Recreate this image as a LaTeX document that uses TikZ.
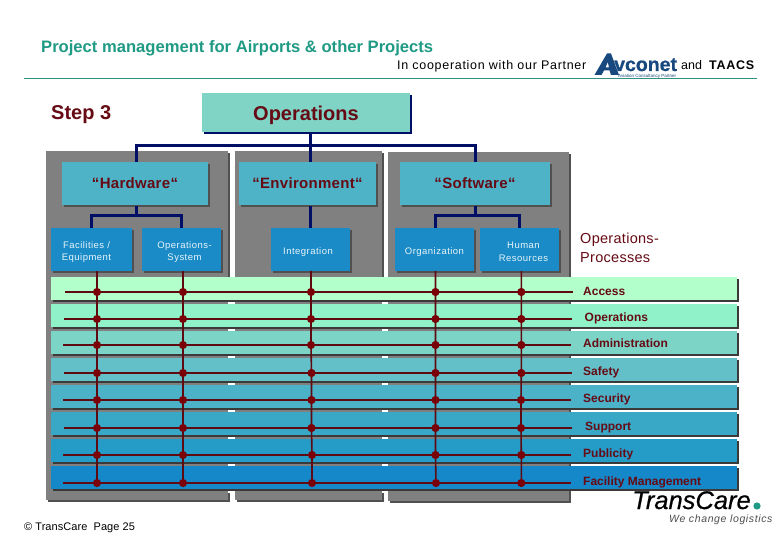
\documentclass[tikz,border=0pt]{standalone}
\usepackage{fontspec}
\setmainfont{Liberation Sans}
\definecolor{titlec}{HTML}{1F9A84}
\definecolor{rulec}{HTML}{2F8F80}
\definecolor{navyc}{HTML}{000F66}
\definecolor{maroonc}{HTML}{660A14}
\definecolor{linec}{HTML}{5E0A10}
\definecolor{dotc}{HTML}{7A0008}
\definecolor{panelc}{HTML}{808080}
\definecolor{panels}{HTML}{505050}
\definecolor{topc}{HTML}{7FD4C6}
\definecolor{midc}{HTML}{4FB3C8}
\definecolor{subc}{HTML}{1A8BC7}
\definecolor{logoc}{HTML}{17497F}
\tikzset{
  x=1pt,y=-1pt,
  fs/.style={font=\fontsize{#1}{#1}\selectfont},
  panel/.style={fill=panelc,draw=none},
  panelsh/.style={fill=panels,draw=none},
  conn/.style={draw=navyc,line width=3pt},
  hline/.style={draw=linec,line width=1.6pt},
  vline/.style={draw=linec,line width=1.6pt},
  dot/.style={circle,fill=dotc,draw=none,inner sep=0pt,minimum size=8.2pt},
  hdr/.style={inner sep=0pt,anchor=base west,text=black},
  proc/.style={inner sep=0pt,anchor=base west,text=maroonc,font=\fontsize{12}{12}\selectfont\bfseries},
  topt/.style={text=maroonc,yshift=-3pt,font=\fontsize{20}{22}\selectfont\bfseries},
  midt/.style={text=maroonc,font=\fontsize{15}{18}\selectfont\addfontfeature{LetterSpace=2}\bfseries},
  subt/.style={text=white!90!subc,yshift=-2.5pt,font=\fontsize{9.5}{12.5}\selectfont\addfontfeature{LetterSpace=5}},
}
\newcommand{\boxat}[9]{% name, x1, y1, x2, y2, fill, shadow, text style, text
  \fill[#7] (#2+2,#3+2) rectangle (#4+2,#5+2);
  \fill[#6] (#2,#3) rectangle (#4,#5);
  \node[inner sep=0pt,align=center,#8] (#1) at ({(#2+#4)/2},{(#3+#5)/2}) {#9};
}
\begin{document}
\begin{tikzpicture}
\useasboundingbox (0,0) rectangle (780,540);
\fill[white] (0,0) rectangle (780,540);
% header
\node[hdr,text=titlec,fs=16.6] (title) at (41,53) {\bfseries Project management for Airports \& other Projects};
\node[hdr,fs=12.5] (coop) at (397,69.5) {\addfontfeature{LetterSpace=5.6}In cooperation with our Partner};
\node[hdr,fs=12.5] (andt) at (681,69.5) {and};
\node[hdr,fs=12.5] (taacs) at (709,69.5) {\addfontfeature{LetterSpace=6}\bfseries TAACS};
\draw[rulec,line width=0.9pt] (24,78.5) coordinate (ra) -- (757,78.5) coordinate (rb);
% avconet logo
\fill[logoc,even odd rule] (594.5,75) -- (607,53.5) -- (611,53.5) -- (619,75) -- (611,75) -- (609.5,70.5) -- (604,70.5) -- (601.5,75) -- cycle
  (605.5,67.5) -- (609,67.5) -- (607.8,62) -- cycle;
\node[hdr,text=logoc,fs=19.5] (avc) at (614,71) {\addfontfeature{FakeBold=0.7}\bfseries vconet};
\node[hdr,text=logoc,fs=4.5] (avs) at (618,77.2) {Aviation Consultancy Partner};
% step
\node[hdr,text=maroonc,fs=20] (step) at (51,120) {\bfseries Step 3};
% panels
\fill[panelsh] (48,153) rectangle (230,502);
\fill[panel] (46,151) rectangle (228,500);
\fill[panelsh] (237,153) rectangle (384,502);
\fill[panel] (235,151) rectangle (382,500);
\fill[panelsh] (390,154) rectangle (571,503);
\fill[panel] (388,152) rectangle (569,501);
% top box
\boxat{ops}{202}{93}{410}{132}{topc}{navyc}{topt}{Operations}
% middle boxes
\boxat{hw}{62}{162}{208}{205}{midc}{panels}{midt}{“Hardware“}
\boxat{env}{239}{162}{376}{205}{midc}{panels}{midt}{“Environment“}
\boxat{soft}{400}{162}{550}{205}{midc}{panels}{midt}{“Software“}
% sub boxes
\boxat{fac}{51}{228}{132}{271}{subc}{panels}{subt,xshift=-5pt}{Facilities /\\Equipment}
\boxat{osys}{142}{228}{221}{271}{subc}{panels}{subt,xshift=3pt}{Operations-\\System}
\boxat{integ}{271}{228}{350}{271}{subc}{panels}{subt,xshift=-2.5pt}{Integration}
\boxat{org}{395}{228}{474}{271}{subc}{panels}{subt}{Organization}
\boxat{hum}{480}{228}{559}{271}{subc}{panels}{subt,xshift=4pt}{Human\\Resources}
% connectors
\draw[conn] (310,133) -- (310,162);
\draw[conn] (136,162) -- (136,145.5) -- (475,145.5) -- (475,162);
\draw[conn] (136,206) -- (136,216);
\draw[conn] (91,228) -- (91,216) -- (181,216) -- (181,228);
\draw[conn] (310,206) -- (310,228);
\draw[conn] (475,206) -- (475,216);
\draw[conn] (435,228) -- (435,216) -- (519,216) -- (519,228);
\node[hdr,text=maroonc,fs=14.5] (pr1) at (580,244) {\addfontfeature{LetterSpace=2}Operations-};
\node[hdr,text=maroonc,fs=14.5] (pr2) at (580,263) {\addfontfeature{LetterSpace=2}Processes};
% transcare logo, under the bands
\node[hdr,fs=25.5] (tc) at (632,509) {\addfontfeature{FakeBold=0.5}\itshape TransCare};
\fill[titlec] (757,506) circle (3.6) coordinate (tcdot);
\node[hdr,fs=10.5,text=black!70] (tcs) at (669,522) {\addfontfeature{LetterSpace=6}\itshape We change logistics};
% bands
\foreach \y/\c in {277/B3FFCC,304/8FF2C8,331/7BD4C6,358/63C0C8,385/4BB2C8,412/38A8C6,439/259CC8,466/1488C8}{
  \definecolor{bandc}{HTML}{\c}
  \fill[black!55!panelc] (53,\y+2) rectangle (739,\y+25);
  \fill[white] (228,\y+25) rectangle (235,\y+27);
  \fill[white] (382,\y+25) rectangle (388,\y+27);
  \fill[bandc] (51,\y) rectangle (737,\y+23);
}
% matrix dots
\foreach \i/\y/\a/\b/\c/\d/\e in {
  1/292/97/183/311/435.5/521.3,
  2/319/97/183/311/435.5/521.3,
  3/345/97/183/311/435.5/521.3,
  4/373/97/183/311.5/435.5/521.3,
  5/400/97/183/311.5/435.5/521,
  6/428/97/183/311.5/435.5/521,
  7/455/97/183/312/435.5/521.3,
  8/483/97/183/312/436/521.3}{
  \coordinate (h\i a) at (\a,\y);
  \coordinate (h\i b) at (\b,\y);
  \coordinate (h\i c) at (\c,\y);
  \coordinate (h\i d) at (\d,\y);
  \coordinate (h\i e) at (\e,\y);
}
\coordinate (v0a) at (97,271); \coordinate (v0b) at (183,271); \coordinate (v0c) at (311,271);
\coordinate (v0d) at (435.5,271); \coordinate (v0e) at (521.3,271);
\foreach \k in {a,b,c,d,e}{
  \draw[vline] (v0\k) -- (h1\k) -- (h2\k) -- (h3\k) -- (h4\k) -- (h5\k) -- (h6\k) -- (h7\k) -- (h8\k);
}
\foreach \i/\s/\t/\y in {1/65/572.7/292,2/64/572/319,3/63/571/345,4/64/572/373,5/63/571/400,6/64/572/428,7/63/571/455,8/63/571/483}{
  \draw[hline] (\s,\y) coordinate (hs\i) -- (\t,\y) coordinate (he\i);
  \foreach \k in {a,b,c,d,e}{ \node[dot] (n\i\k) at (h\i\k) {}; }
}
% process labels
\node[proc] (l1) at (583,295.5) {Access};
\node[proc] (l2) at (584.5,321.5) {Operations};
\node[proc] (l3) at (583,347.5) {Administration};
\node[proc] (l4) at (583,375.5) {Safety};
\node[proc] (l5) at (583,402.5) {Security};
\node[proc] (l6) at (585,430.5) {Support};
\node[proc] (l7) at (583,457.5) {Publicity};
\node[proc] (l8) at (583,485) {Facility Management};
% footer
\node[hdr,fs=11] (foot) at (24,530) {\addfontfeature{LetterSpace=0.5}© TransCare\ \ Page 25};
\end{tikzpicture}
\end{document}
